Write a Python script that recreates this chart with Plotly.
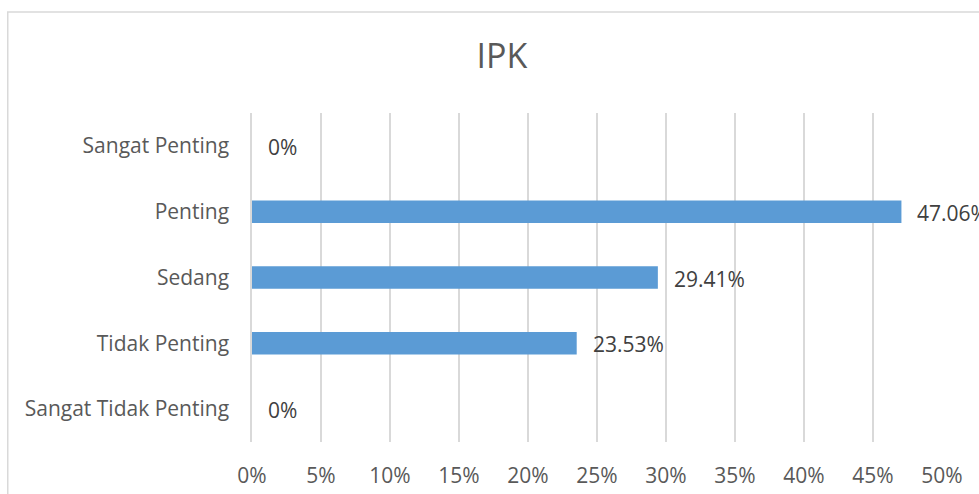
import plotly.graph_objects as go

categories = ["Sangat Tidak Penting", "Tidak Penting", "Sedang", "Penting", "Sangat Penting"]
values = [0, 23.53, 29.41, 47.06, 0]
tick_vals = [0, 5, 10, 15, 20, 25, 30, 35, 40, 45, 50]
tick_text = [f"{v}%" for v in tick_vals]
labels = [f"{v:g}%" for v in values]

TEXT = "#595959"
FONT = "'Open Sans', Lato, sans-serif"

fig = go.Figure(
    go.Bar(
        x=values,
        y=categories,
        orientation="h",
        marker=dict(color="#5b9bd5", line=dict(width=0)),
        width=0.34,
        hoverinfo="skip",
    )
)

# data labels, placed just right of each bar end
for cat, val, lab in zip(categories, values, labels):
    fig.add_annotation(x=val, y=cat, text=lab, showarrow=False, xanchor="left",
                       xshift=14, yshift=-1, font=dict(size=21, color="#404040", family=FONT))

# outer chart border (extends past the captured area on right / bottom)
fig.add_shape(type="rect", xref="paper", yref="paper", x0=-0.354, x1=1.5, y0=-0.5, y1=1.307,
              line=dict(color="#d9d9d9", width=1.5), layer="below")
fig.add_annotation(xref="paper", yref="paper", x=-0.362, y=1.33, text=")", showarrow=False,
                   xanchor="left", yanchor="bottom", font=dict(size=20, color="#404040", family=FONT))

fig.update_layout(
    width=979,
    height=494,
    margin=dict(l=252, r=37, t=113, b=52),
    plot_bgcolor="white",
    paper_bgcolor="white",
    showlegend=False,
    font=dict(family=FONT, color=TEXT),
    title=dict(text="IPK", x=502 / 979, xref="container", xanchor="center",
               y=1 - 56 / 494, yref="container", yanchor="middle",
               font=dict(size=34, color=TEXT, family=FONT)),
    xaxis=dict(range=[0, 50], tickvals=tick_vals, ticktext=tick_text, showgrid=True,
               gridcolor="#d9d9d9", gridwidth=1.5, zeroline=False, showline=False,
               tickfont=dict(size=21, color=TEXT), ticklabelstandoff=19, automargin=False,
               fixedrange=True),
    yaxis=dict(categoryorder="array", categoryarray=categories, showgrid=False,
               showline=True, linecolor="#d9d9d9", linewidth=1.5,
               tickfont=dict(size=21, color=TEXT), ticklabelstandoff=17, automargin=False,
               fixedrange=True),
)

fig.write_html("out.html", config={"displayModeBar": False},
               post_script="document.body.style.margin = '0';")
